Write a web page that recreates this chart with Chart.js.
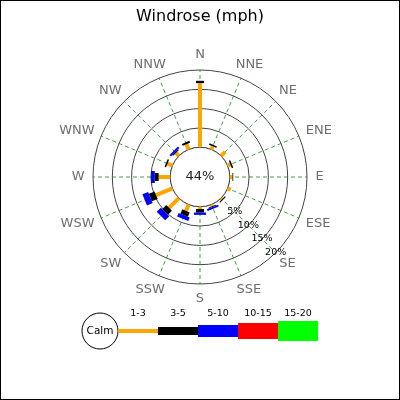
<!DOCTYPE html>
<html>
<head>
<meta charset="utf-8">
<script src="https://cdn.jsdelivr.net/npm/chart.js@4.4.0/dist/chart.umd.min.js"></script>
<style>
  html, body { margin: 0; padding: 0; background: #fff; }
  #windrose { display: block; }
</style>
</head>
<body>
<canvas id="windrose" width="400" height="400"></canvas>
<script>
// directions, clockwise from north
const DIRECTIONS = ['N', 'NNE', 'NE', 'ENE', 'E', 'ESE', 'SE', 'SSE',
                    'S', 'SSW', 'SW', 'WSW', 'W', 'WNW', 'NW', 'NNW'];
const SPEED_BINS = ['1-3', '3-5', '5-10', '10-15', '15-20'];

// frequency in % per direction, one list per speed bin
const SPEED_1_3   = [16.6, 0.9, 1.5, 0.8, 0.7, 0.9, 0.4, 0.5, 0.6, 1.8, 3.6, 4.6, 3.0, 1.4, 1.1, 1.5];
const SPEED_3_5   = [0.6, 0.4, 0, 0.4, 0.2, 0, 0.3, 0.2, 0.9, 1.2, 1.5, 1.6, 1.0, 0.4, 0.3, 0.5];
const SPEED_5_10  = [0, 0, 0, 0, 0, 0, 0, 0.5, 0.6, 1.0, 1.5, 1.6, 1.0, 0, 0.5, 0];
const SPEED_10_15 = [0, 0, 0, 0, 0, 0, 0, 0, 0, 0, 0, 0, 0, 0, 0, 0];
const SPEED_15_20 = [0, 0, 0, 0, 0, 0, 0, 0, 0, 0, 0, 0, 0, 0, 0, 0];
const CALM_PCT = 44;
const RING_TICKS = [5, 10, 15, 20];

const SERIES = [SPEED_1_3, SPEED_3_5, SPEED_5_10, SPEED_10_15, SPEED_15_20];

// styles
const BIN_COLORS = ['#ffa500', '#000000', '#0000ff', '#ff0000', '#00ff00'];
const BIN_WIDTHS = [4, 8, 12, 16, 20];
const TICK_LABEL_INDEX = 6;   // ring labels sit on the SE spoke
const LABEL_GAP = 8.5;

Chart.defaults.font.family = '"DejaVu Sans", sans-serif';

const windrosePlugin = {
    id: 'windrose',
    beforeDatasetsDraw(chart) {
        const scale = chart.scales.r;
        const ctx = chart.ctx;
        const cx = scale.xCenter;
        const cy = scale.yCenter;

        ctx.save();

        // calm circle (hides the spokes inside)
        ctx.beginPath();
        ctx.arc(cx, cy, scale.getDistanceFromCenterForValue(0), 0, Math.PI * 2);
        ctx.fillStyle = '#fff';
        ctx.fill();
        ctx.strokeStyle = '#444';
        ctx.lineWidth = 1;
        ctx.stroke();

        // stacked bars
        ctx.lineCap = 'butt';
        DIRECTIONS.forEach((dir, i) => {
            var base = 0;
            chart.data.datasets.forEach((ds, k) => {
                var v = ds.data[i];
                if (!v) return;
                var p1 = scale.getPointPositionForValue(i, base);
                var p2 = scale.getPointPositionForValue(i, base + v);
                ctx.beginPath();
                ctx.moveTo(p1.x, p1.y);
                ctx.lineTo(p2.x, p2.y);
                ctx.strokeStyle = BIN_COLORS[k];
                ctx.lineWidth = BIN_WIDTHS[k];
                ctx.stroke();
                base += v;
            });
        });

        ctx.textAlign = 'center';
        ctx.textBaseline = 'middle';

        // calm percentage
        ctx.fillStyle = '#222';
        ctx.font = '13px "DejaVu Sans"';
        ctx.fillText(CALM_PCT + '%', cx, cy);

        // ring labels
        ctx.fillStyle = '#000';
        ctx.font = '9.5px "DejaVu Sans"';
        RING_TICKS.forEach((t) => {
            var p = scale.getPointPositionForValue(TICK_LABEL_INDEX, t);
            ctx.fillText(t + '%', p.x, p.y);
        });

        // direction labels, text box shifted outwards along the spoke
        ctx.fillStyle = '#6e6e6e';
        ctx.font = '13px "DejaVu Sans"';
        DIRECTIONS.forEach((dir, i) => {
            var angle = scale.getIndexAngle(i);
            var w = ctx.measureText(dir).width;
            var p = scale.getPointPosition(i, scale.drawingArea + LABEL_GAP);
            var x = p.x + Math.sin(angle) * w / 2;
            var y = p.y - Math.cos(angle) * 6.5;
            ctx.fillText(dir, x, y);
        });

        ctx.restore();
    },
    afterDraw(chart) {
        const ctx = chart.ctx;
        const legX = 118, legY = 331, segW = 40, calmR = 18;
        ctx.save();

        // calm bubble
        ctx.beginPath();
        ctx.arc(legX - calmR, legY, calmR, 0, Math.PI * 2);
        ctx.strokeStyle = '#000';
        ctx.lineWidth = 1;
        ctx.stroke();
        ctx.textAlign = 'center';
        ctx.textBaseline = 'middle';
        ctx.fillStyle = '#000';
        ctx.font = '10.5px "DejaVu Sans"';
        ctx.fillText('Calm', legX - calmR, legY);

        // speed bins
        ctx.font = '9.5px "DejaVu Sans"';
        SPEED_BINS.forEach((bin, k) => {
            var x = legX + k * segW;
            ctx.fillStyle = BIN_COLORS[k];
            ctx.fillRect(x, legY - BIN_WIDTHS[k] / 2, segW, BIN_WIDTHS[k]);
            ctx.fillStyle = '#000';
            ctx.fillText(bin, x + segW / 2, 314);
        });

        // frame
        ctx.strokeStyle = '#000';
        ctx.strokeRect(0.5, 0.5, 399, 399);
        ctx.restore();
    }
};

new Chart(document.getElementById('windrose'), {
    type: 'radar',
    data: {
        labels: DIRECTIONS,
        datasets: SPEED_BINS.map((bin, k) => ({
            label: bin,
            data: SERIES[k],
            showLine: false,
            pointRadius: 0,
            pointHoverRadius: 0,
            pointHitRadius: 0,
            borderWidth: 0,
            fill: false
        }))
    },
    options: {
        responsive: false,
        animation: false,
        layout: { padding: { top: 0, bottom: 115, left: 0, right: 0 } },
        plugins: {
            legend: { display: false },
            tooltip: { enabled: false },
            title: {
                display: true,
                text: 'Windrose (mph)',
                color: '#000',
                font: { size: 16, weight: 'normal' },
                padding: { top: 7, bottom: 43 }
            }
        },
        scales: {
            r: {
                min: -7.7,
                max: 20,
                afterBuildTicks: (scale) => {
                    scale.ticks = [0].concat(RING_TICKS).map((v) => ({ value: v }));
                },
                ticks: { display: false },
                grid: { circular: true, color: '#444', lineWidth: 1 },
                angleLines: { color: 'rgba(0,128,0,0.75)', lineWidth: 1, borderDash: [4, 3] },
                pointLabels: { display: false }
            }
        }
    },
    plugins: [windrosePlugin]
});
</script>
</body>
</html>
